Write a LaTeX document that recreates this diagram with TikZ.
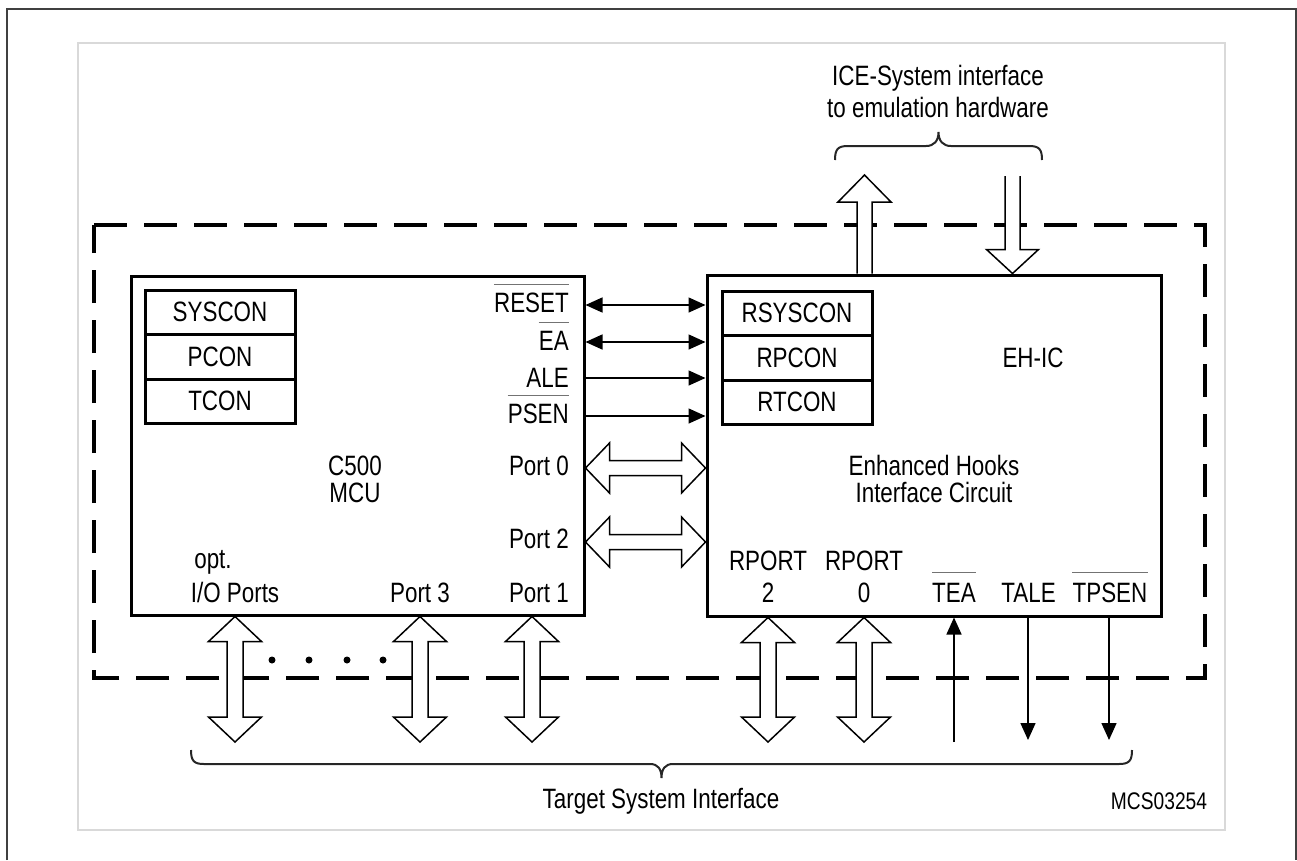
\documentclass[tikz,border=0pt]{standalone}
\usepackage{fontspec}
\setmainfont{Liberation Sans}[FakeStretch=0.8]
\usetikzlibrary{arrows.meta,calc}

% horizontal double-headed hollow bus arrow: left tip #1, right tip #2
\newcommand{\HBus}[2]{%
  \filldraw[bus] let \p1=(#1), \p2=(#2) in
    (\x1,\y1) -- (\x1+24pt,\y1+25pt) -- (\x1+24pt,\y1+7.5pt) -- (\x2-24pt,\y1+7.5pt)
    -- (\x2-24pt,\y1+25pt) -- (\x2,\y1) -- (\x2-24pt,\y1-25pt) -- (\x2-24pt,\y1-7.5pt)
    -- (\x1+24pt,\y1-7.5pt) -- (\x1+24pt,\y1-25pt) -- cycle;}
% vertical double-headed hollow bus arrow: top tip #1, bottom tip #2
\newcommand{\VBus}[2]{%
  \filldraw[bus] let \p1=(#1), \p2=(#2) in
    (\x1,\y1) -- (\x1+26.5pt,\y1-25pt) -- (\x1+8pt,\y1-25pt) -- (\x1+8pt,\y2+25pt)
    -- (\x1+26.5pt,\y2+25pt) -- (\x1,\y2) -- (\x1-26.5pt,\y2+25pt) -- (\x1-8pt,\y2+25pt)
    -- (\x1-8pt,\y1-25pt) -- (\x1-26.5pt,\y1-25pt) -- cycle;}
% single hollow arrow pointing up: tip #1, open base #2
\newcommand{\UpBus}[2]{%
  \filldraw[bus] let \p1=(#1), \p2=(#2) in
    (\x1-7.5pt,\y2) -- (\x1-7.5pt,\y1-27pt) -- (\x1-26.5pt,\y1-27pt) -- (\x1,\y1)
    -- (\x1+26.5pt,\y1-27pt) -- (\x1+7.5pt,\y1-27pt) -- (\x1+7.5pt,\y2);}
% single hollow arrow pointing down: open top #1, tip #2
\newcommand{\DownBus}[2]{%
  \filldraw[bus] let \p1=(#1), \p2=(#2) in
    (\x2-7.5pt,\y1) -- (\x2-7.5pt,\y2+24pt) -- (\x2-26pt,\y2+24pt) -- (\x2,\y2)
    -- (\x2+26pt,\y2+24pt) -- (\x2+7.5pt,\y2+24pt) -- (\x2+7.5pt,\y1);}

\begin{document}
\begin{tikzpicture}[x=1pt,y=-1pt,
  font=\fontsize{28}{32}\selectfont,
  box/.style={draw, line width=3pt, inner sep=0pt},
  reg/.style={draw, line width=3pt, minimum width=150pt, minimum height=44.5pt, inner sep=0pt},
  lbl/.style={inner sep=0pt, anchor=base},
  sig/.style={line width=1.5pt},
  onehead/.style={-{Triangle[length=17pt,width=15pt]}},
  twohead/.style={{Triangle[length=17pt,width=15pt]}-{Triangle[length=17pt,width=15pt]}},
  bus/.style={draw, fill=white, line width=1.5pt, line join=miter},
  ovl/.style={draw=black!55, line width=1.3pt},
  brace/.style={draw=black!85, line width=2pt},
  dashbox/.style={line width=4pt, dash pattern=on 33pt off 17pt}
]
\useasboundingbox (0,0) rectangle (1297,860);

% frames
\draw[black!75, line width=2pt] (6.5,860) -- (6.5,8.5) -- (1296,8.5) -- (1296,860);
\draw[black!15, line width=1.5pt] (78,43) rectangle (1225,830);

% dashed emulation boundary
\draw[dashbox] (94,225) -- (1205,225) -- (1205,678) -- (94,678) -- cycle;

% main blocks
\node[box, minimum width=453pt, minimum height=339pt] (c500) at (357.5,445.5) {};
\node[box, minimum width=454pt, minimum height=341pt] (ehic) at (934,445.5) {};

% register stacks
\node[reg] (syscon) at (220,312.25) {SYSCON};
\node[reg] (pcon)   at (220,356.75) {PCON};
\node[reg] (tcon)   at (220,401.25) {TCON};
\node[reg] (rsyscon) at (797,313.25) {RSYSCON};
\node[reg] (rpcon)   at (797,357.75) {RPCON};
\node[reg] (rtcon)   at (797,402.25) {RTCON};

% C500 labels
\node[lbl, anchor=base east] (lreset) at (569,312) {RESET};
\node[lbl, anchor=base east] (lea)    at (569,350) {EA};
\node[lbl, anchor=base east] (lale)   at (569,387) {ALE};
\node[lbl, anchor=base east] (lpsen)  at (569,423) {PSEN};
\node[lbl, anchor=base east] (lport0) at (569,475) {Port 0};
\node[lbl, anchor=base east] (lport2) at (569,548) {Port 2};
\node[lbl, anchor=base east] (lport1) at (569,602) {Port 1};
\node[lbl] (lc500)  at (355,475) {C500};
\node[lbl] (lmcu)   at (355,502) {MCU};
\node[lbl] (lopt)   at (213,568) {opt.};
\node[lbl] (lio)    at (235,602) {I/O Ports};
\node[lbl] (lport3) at (420,602) {Port 3};

\draw[ovl] ([yshift=8pt]lreset.north west) -- ([yshift=8pt]lreset.north east);
\draw[ovl] ([yshift=8pt]lea.north west) -- ([yshift=8pt]lea.north east);
\draw[ovl] ([yshift=7.5pt]lpsen.north west) -- ([yshift=7.5pt]lpsen.north east);

% EH-IC labels
\node[lbl] (lehic) at (1033,367) {EH-IC};
\node[lbl] (lenh)  at (934,475) {Enhanced Hooks};
\node[lbl] (lint)  at (934,502) {Interface Circuit};
\node[lbl] (lrp2a) at (768,570) {RPORT};
\node[lbl] (lrp2b) at (768,602) {2};
\node[lbl] (lrp0a) at (864,570) {RPORT};
\node[lbl] (lrp0b) at (864,602) {0};
\node[lbl] (ltea)  at (954,602) {TEA};
\node[lbl] (ltale) at (1028.5,602) {TALE};
\node[lbl] (ltpsen) at (1110,602) {TPSEN};
\draw[ovl] ([yshift=10pt]ltea.north west) -- ([yshift=10pt]ltea.north east);
\draw[ovl] ([yshift=10pt]ltpsen.north west) -- ([yshift=10pt]ltpsen.north east);

% control signals between the chips
\coordinate (yreset) at (0,305);
\coordinate (yea)    at (0,342);
\coordinate (yale)   at (0,378);
\coordinate (ypsen)  at (0,416);
\coordinate (yp0)    at (0,468);
\coordinate (yp2)    at (0,542);
\draw[sig, twohead] (c500.east |- yreset) -- (ehic.west |- yreset);
\draw[sig, twohead] (c500.east |- yea) -- (ehic.west |- yea);
\draw[sig, onehead] (c500.east |- yale) -- (ehic.west |- yale);
\draw[sig, onehead] (c500.east |- ypsen) -- (ehic.west |- ypsen);
\HBus{c500.east |- yp0}{ehic.west |- yp0}
\HBus{c500.east |- yp2}{ehic.west |- yp2}

% target system side
\coordinate (bio)  at (235,742);
\coordinate (bp3)  at (420,742);
\coordinate (bp1)  at (532,742);
\coordinate (brp2) at (768,742);
\coordinate (brp0) at (864,742);
\coordinate (btea) at (954,742);
\coordinate (btale) at (1028,740);
\coordinate (btpsen) at (1109,740);
\VBus{c500.south -| bio}{bio}
\VBus{c500.south -| bp3}{bp3}
\VBus{c500.south -| bp1}{bp1}
\VBus{ehic.south -| brp2}{brp2}
\VBus{ehic.south -| brp0}{brp0}
\draw[sig, onehead] (btea) -- (ehic.south -| btea);
\draw[sig, onehead] (ehic.south -| btale) -- (btale);
\draw[sig, onehead] (ehic.south -| btpsen) -- (btpsen);
\foreach \d in {272,309,347,383} \fill (\d,660) circle (3.5pt);

% ICE side
\coordinate (tup)   at (864.5,175);
\coordinate (tdown) at (1012.5,176);
\UpBus{tup}{ehic.north -| tup}
\DownBus{tdown}{ehic.north -| tdown}

% braces
\draw[brace] (835,160) .. controls (835,149) and (838,146) .. (848,146) -- (926,146)
  .. controls (934,146) and (938.5,141) .. (938.5,132)
  .. controls (938.5,141) and (943,146) .. (951,146) -- (1029,146)
  .. controls (1039,146) and (1042,149) .. (1042,160);
\draw[brace] (191,750) .. controls (191,761) and (194,764) .. (204,764) -- (650,764)
  .. controls (658,764) and (661.5,769) .. (661.5,778)
  .. controls (661.5,769) and (665,764) .. (673,764) -- (1119,764)
  .. controls (1129,764) and (1132,761) .. (1132,750);

% texts
\node[lbl] (lice1) at (938,85) {ICE-System interface};
\node[lbl] (lice2) at (938,117) {to emulation hardware};
\node[lbl] (ltsi)  at (661,808) {Target System Interface};
\node[lbl, font=\fontsize{24}{28}\selectfont] (lmcs) at (1159,809) {MCS03254};
\end{tikzpicture}
\end{document}
